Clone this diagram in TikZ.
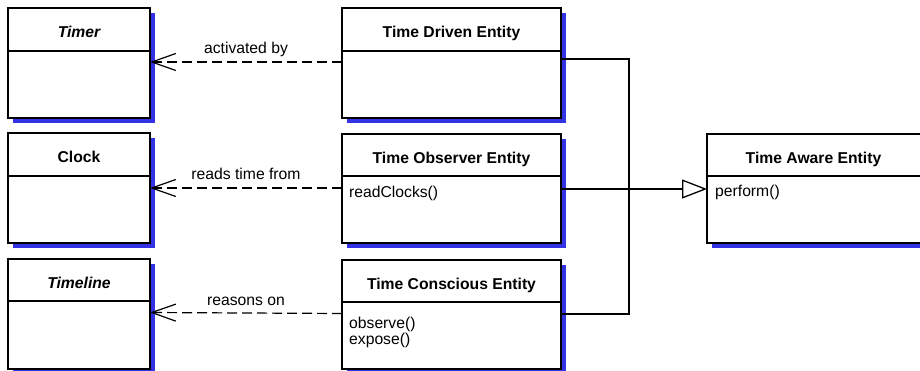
\documentclass[tikz,border=0pt]{standalone}
\usepackage{fontspec}
\setmainfont{Liberation Sans}
\usetikzlibrary{arrows.meta,calc}
\definecolor{shadowgray}{rgb}{0.2,0.2,0.9}
\tikzset{
  classpart/.style={draw=black, line width=1.3pt, fill=white, inner sep=0pt, outer sep=0pt,
    rectangle, font=\fontsize{15.7}{19}\selectfont\bfseries, text height=16.5pt, text depth=0pt},
  method/.style={anchor=base west, inner sep=0pt, font=\fontsize{15.7}{19}\selectfont},
  dep/.style={line width=1.2pt, dash pattern=on 10pt off 5pt,
    -{Straight Barb[length=24pt,width=17pt,line width=1.2pt]}},
  deplabel/.style={midway, anchor=base, yshift=8pt, inner sep=0pt, font=\fontsize{15.7}{19}\selectfont},
  gen/.style={line width=1.3pt},
  genarrow/.style={line width=1.3pt, -{Triangle[open,length=25pt,width=19pt,fill=white]}}
}
\newcommand\umlclass[7]{%
  \fill[shadowgray] (#2+5,#3+5) rectangle (#4+5,#6+5);
  \node[classpart, minimum width=#4-#2, minimum height=#5-#3, anchor=north west] (#1-t) at (#2,#3) {#7};
  \node[classpart, minimum width=#4-#2, minimum height=#6-#5, anchor=north west] (#1-b) at (#2,#5) {};
}
\begin{document}
\begin{tikzpicture}[x=1pt,y=-1pt]
\useasboundingbox (0,0) rectangle (920,371);
% left column
\umlclass{timer}{8}{8}{150}{51}{118}{\itshape Timer}
\umlclass{clock}{8}{133}{150}{176}{243}{Clock}
\umlclass{timeline}{8}{259}{150}{301}{369}{\itshape Timeline}
% middle column
\umlclass{tdriven}{342}{8}{561}{51}{118}{Time Driven Entity}
\umlclass{tobs}{342}{134}{561}{176}{243}{Time Observer Entity}
\umlclass{tcons}{342}{260}{561}{302}{369}{Time Conscious Entity}
% right
\umlclass{aware}{707}{134}{935}{176}{243}{\hspace*{-15pt}Time Aware Entity}
% methods
\node[method] (m-read) at (349,198) {readClocks()};
\node[method] (m-obs) at (349,328) {observe()};
\node[method] (m-exp) at (349,344) {expose()};
\node[method] (m-perf) at (715,197) {perform()};
% dependencies
\draw[dep] ([yshift=-11pt]tdriven-b.north west) -- ([yshift=-11pt]timer-b.north east)
  node[deplabel] (l1) {activated by};
\draw[dep] ([yshift=-12pt]tobs-b.north west) -- ([yshift=-12pt]clock-b.north east)
  node[deplabel] (l2) {reads time from};
\draw[dep] ([yshift=-11.5pt]tcons-b.north west) -- ([yshift=-11.5pt]timeline-b.north east)
  node[deplabel] (l3) {reasons on};
% generalization
\coordinate (j) at (629,189);
\draw[gen] ([yshift=-8pt]tdriven-b.north east) -| (j);
\draw[gen] ([yshift=-12pt]tcons-b.north east) -| (j);
\draw[genarrow] ([yshift=-13pt]tobs-b.north east) -- ([yshift=-13pt]aware-b.north west);
\end{tikzpicture}
\end{document}
